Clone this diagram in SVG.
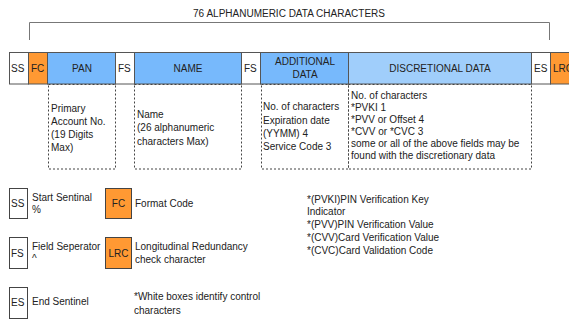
<svg xmlns="http://www.w3.org/2000/svg" width="569" height="320" viewBox="0 0 569 320">
<style>
text{font-family:"Liberation Sans",Arial,sans-serif;font-size:10px;fill:#222}
.c{text-anchor:middle}
.cell{stroke:#555;stroke-width:1}
.w{fill:#fff}
.o{fill:#ff9933}
.b{fill:#77b9fc}
.lb{fill:#a0cefb}
.dash{fill:none;stroke:#444;stroke-width:1;stroke-dasharray:2,2}
.lg{stroke:#444;stroke-width:1}
</style>
<rect width="569" height="320" fill="#fff"/>
<g id="title"><text class="c" x="289" y="17">76 ALPHANUMERIC DATA CHARACTERS</text></g>
<g id="connectors">
<path d="M29.5,40 V22.5 H549.5 V40" fill="none" stroke="#777" stroke-width="1"/>
</g>
<g id="strip">
<rect class="cell w" x="9.5" y="52.5" width="19" height="31.5"/>
<rect class="cell o" x="28.5" y="52.5" width="19" height="31.5"/>
<rect class="cell b" x="47.5" y="52.5" width="68" height="31.5"/>
<rect class="cell w" x="115.5" y="52.5" width="19" height="31.5"/>
<rect class="cell b" x="134.5" y="52.5" width="107" height="31.5"/>
<rect class="cell w" x="241.5" y="52.5" width="19" height="31.5"/>
<rect class="cell b" x="260.5" y="52.5" width="88" height="31.5"/>
<rect class="cell lb" x="348.5" y="52.5" width="183" height="31.5"/>
<rect class="cell w" x="531.5" y="52.5" width="19" height="31.5"/>
<rect class="cell o" x="550.5" y="52.5" width="30" height="31.5"/>
<text x="11" y="72">SS</text>
<text x="31" y="72">FC</text>
<text class="c" x="82" y="72">PAN</text>
<text x="118" y="72">FS</text>
<text class="c" x="188" y="72">NAME</text>
<text x="244" y="72">FS</text>
<text class="c" x="305" y="65">ADDITIONAL</text>
<text class="c" x="305" y="78">DATA</text>
<text class="c" x="440" y="72">DISCRETIONAL DATA</text>
<text x="534" y="72">ES</text>
<text x="553" y="72">LRC</text>
</g>
<g id="pan-detail">
<rect class="dash" x="48.5" y="84.5" width="67" height="84.5"/>
<text x="51" y="112">Primary</text>
<text x="51" y="125">Account No.</text>
<text x="51" y="138">(19 Digits</text>
<text x="51" y="151">Max)</text>
</g>
<g id="name-detail">
<rect class="dash" x="134.5" y="84.5" width="107" height="84.5"/>
<text x="137" y="118">Name</text>
<text x="137" y="131">(26 alphanumeric</text>
<text x="137" y="145">characters Max)</text>
</g>
<g id="additional-detail">
<rect class="dash" x="261.5" y="84.5" width="87" height="84.5"/>
<text x="263" y="110">No. of characters</text>
<text x="263" y="124">Expiration date</text>
<text x="263" y="137">(YYMM) 4</text>
<text x="263" y="150">Service Code 3</text>
</g>
<g id="discretional-detail">
<rect class="dash" x="348.5" y="84.5" width="183" height="84.5"/>
<text x="351" y="99">No. of characters</text>
<text x="351" y="111">*PVKI 1</text>
<text x="351" y="123">*PVV or Offset 4</text>
<text x="351" y="135">*CVV or *CVC 3</text>
<text x="351" y="147">some or all of the above fields may be</text>
<text x="351" y="159">found with the discretionary data</text>
</g>
<g id="legend-ss">
<rect class="lg w" x="9.5" y="188.5" width="18" height="30"/>
<text x="11" y="207">SS</text>
<text x="32" y="201">Start Sentinal</text>
<text x="32" y="213">%</text>
</g>
<g id="legend-fc">
<rect class="lg o" x="105.5" y="188.5" width="26" height="30"/>
<text class="c" x="118.5" y="207">FC</text>
<text x="135" y="207">Format Code</text>
</g>
<g id="legend-fs">
<rect class="lg w" x="9.5" y="237.5" width="18" height="31"/>
<text x="11" y="257">FS</text>
<text x="32" y="250">Field Seperator</text>
<text x="32" y="262">^</text>
</g>
<g id="legend-lrc">
<rect class="lg o" x="105.5" y="237.5" width="26" height="31"/>
<text class="c" x="118.5" y="257">LRC</text>
<text x="135" y="250">Longitudinal Redundancy</text>
<text x="135" y="263">check character</text>
</g>
<g id="legend-es">
<rect class="lg w" x="9.5" y="287.5" width="18" height="31"/>
<text x="11" y="306">ES</text>
<text x="32" y="305">End Sentinel</text>
</g>
<g id="legend-note">
<text x="134" y="300">*White boxes identify control</text>
<text x="134" y="314">characters</text>
</g>
<g id="abbrev-notes">
<text x="307" y="203">*(PVKI)PIN Verification Key</text>
<text x="307" y="215">Indicator</text>
<text x="307" y="228">*(PVV)PIN Verification Value</text>
<text x="307" y="241">*(CVV)Card Verification Value</text>
<text x="307" y="254">*(CVC)Card Validation Code</text>
</g>
</svg>
